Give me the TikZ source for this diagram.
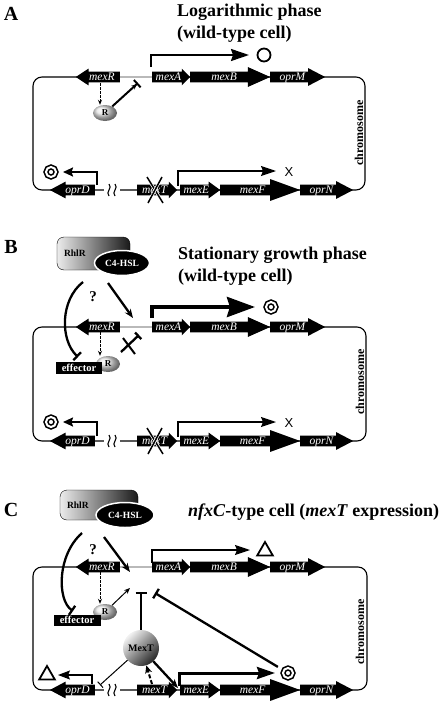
\documentclass[tikz,border=0pt]{standalone}
\usepackage{fontspec}
\setmainfont{Liberation Serif}
\setsansfont{Liberation Sans}
\usepackage{tikz}
\usetikzlibrary{positioning, arrows.meta, shapes}

\begin{document}
\begin{tikzpicture}[
        x=1pt, y=-1pt,
        gene_style/.style={single arrow, fill=black, text=white, anchor=tail,
            font=\fontsize{11.5}{11.5}\selectfont\itshape,
            inner xsep=1pt, inner ysep=1pt, text height=8pt, text depth=0.5pt,
            single arrow head extend=3pt, single arrow head indent=0pt},
        rev_gene/.style={gene_style, shape border rotate=180},
        chrom_style/.style={line width=1.1pt, rounded corners=9pt},
        spacer_style/.style={gray!55, line width=1.4pt},
        brk_style/.style={line width=1.1pt},
        cross_style/.style={line width=1.5pt, preaction={draw=white, line width=3pt}},
        label_style/.style={font=\fontsize{20}{20}\selectfont\bfseries, inner sep=0pt},
        title_style/.style={anchor=west, align=left, inner sep=0pt, font=\fontsize{18}{22}\selectfont\bfseries},
        chr_text/.style={rotate=90, inner sep=0pt, font=\fontsize{12}{12}\selectfont\bfseries},
        prot_R/.style={ellipse, ball color=gray!20, minimum width=24pt, minimum height=16pt, inner sep=0pt, font=\fontsize{9}{9}\selectfont\bfseries},
        effector_style/.style={fill=black, text=white, font=\fontsize{10.5}{10.5}\selectfont\bfseries, inner sep=0pt, minimum width=46pt, minimum height=12pt},
        rhlr_style/.style={draw=black, rounded corners=7pt, left color=gray!15, right color=black!90, font=\fontsize{9.5}{9.5}\selectfont\bfseries, align=left, inner xsep=7pt},
        hsl_style/.style={ellipse, fill=black, draw=white, line width=1.5pt, text=white, font=\fontsize{9.5}{9.5}\selectfont\bfseries, inner sep=0pt},
        mext_style/.style={circle, shade, top color=gray!10, bottom color=black!85, shading angle=45, minimum size=36pt, inner sep=0pt, font=\fontsize{10}{10}\selectfont\bfseries},
        open_circ/.style={circle, draw, line width=1.8pt, minimum size=13pt, inner sep=0pt},
        target_style/.style={circle, draw, line width=1.6pt, double=white, double distance=2pt, minimum size=10pt, inner sep=0pt},
        tri_style/.style={regular polygon, regular polygon sides=3, draw, line width=1.8pt, minimum size=18pt, inner sep=0pt},
        x_style/.style={font=\fontsize{13}{13}\selectfont\sffamily, inner sep=0pt},
        q_style/.style={font=\fontsize{15}{15}\selectfont\bfseries, inner sep=0pt},
        dash_arrow/.style={-{Stealth[length=5pt, width=4pt]}, line width=0.8pt, dash pattern=on 2.5pt off 1.5pt},
        dash_thick/.style={-{Stealth[length=8pt, width=7pt]}, line width=2pt, dash pattern=on 4pt off 2pt},
        thin_arrow/.style={-{Stealth[length=6pt, width=5pt]}, line width=1pt},
        act_arrow/.style={-{Stealth[length=9pt, width=7pt]}, line width=2.3pt},
        rep_arrow/.style={-{Stealth[length=5pt, width=5pt] Bar[width=10pt]}, line width=2pt},
        inh_thick/.style={-{Bar[width=11pt]}, line width=2.3pt},
        inh_thin/.style={-{Bar[width=8pt]}, line width=1pt},
        prom_thin/.style={-{Stealth[length=15pt, width=10pt, inset=2pt]}, line width=1.2pt},
        prom_small/.style={-{Stealth[length=10pt, width=9pt, inset=1.5pt]}, line width=2pt},
        prom_thick/.style={-{Stealth[length=18pt, width=12pt, inset=2pt]}, line width=2pt},
        prom_big/.style={-{Stealth[length=28pt, width=20pt, inset=3pt]}, line width=4pt},
    ]
        \useasboundingbox (0,0) rectangle (445,707);

        % ---------------- Panel A ----------------
        \node[label_style] (A-lab) at (11,14) {A};
        \node[title_style] (A-title) at (177,23) {Logarithmic phase\\(wild-type cell)};

        % Chromosome
        \coordinate (A-tl) at (33,77);
        \coordinate (A-br) at (365,190);
        \draw[chrom_style] (A-tl) rectangle (A-br);
        \fill[white] (104,186) rectangle (120,194);
        \draw[brk_style] (109,184) .. controls (113,188) and (105,192) .. (109,196);
        \draw[brk_style] (115,184) .. controls (119,188) and (111,192) .. (115,196);
        \node[chr_text] (A-chr) at (359,133) {chromosome};

        % Genes
        \node[rev_gene, minimum height=44pt, single arrow tip angle=67] (A-mexR) at (120,77) {mexR};
        \node[gene_style, minimum height=38pt] (A-mexA) at (152,77) {mexA};
        \node[gene_style, minimum height=80pt, single arrow tip angle=48, single arrow head extend=4.5pt] (A-mexB) at (190,77) {mexB};
        \node[gene_style, minimum height=55pt, single arrow tip angle=55, single arrow head extend=3.5pt] (A-oprM) at (270,77) {oprM};
        \draw[spacer_style] (A-mexR.tail) -- (A-mexA.tail);
        \node[rev_gene, minimum height=45pt, single arrow tip angle=56] (A-oprD) at (95,190) {oprD};
        \node[gene_style, minimum height=40pt] (A-mexT) at (137,190) {mexT};
        \node[gene_style, minimum height=40pt, single arrow tip angle=72] (A-mexE) at (180,190) {mexE};
        \node[gene_style, minimum height=80pt, single arrow tip angle=40, single arrow head extend=5.5pt] (A-mexF) at (220,190) {mexF};
        \node[gene_style, minimum height=53pt, single arrow tip angle=55, single arrow head extend=3.5pt] (A-oprN) at (300,190) {oprN};
        \draw[cross_style] (147,177) -- (163,203);
        \draw[cross_style] (162,177) -- (148,203);

        % Regulators
        \node[prot_R] (A-R) at (105,113) {R};
        \coordinate (A-d1) at (100,83);
        \draw[dash_arrow] (A-d1) -- (A-d1 |- A-R.north);
        \coordinate (A-i1) at (138,83);
        \draw[rep_arrow] (A-R) -- (A-i1);

        % Promoters
        \coordinate (A-p1) at (151,67);
        \coordinate (A-e1) at (249,55);
        \node[open_circ] (A-o1) at (264,55) {};
        \draw[prom_thick] (A-p1) |- (A-e1);
        \coordinate (A-p2) at (178,186);
        \coordinate (A-e2) at (276,171);
        \node[x_style] (A-x) at (289,172) {X};
        \draw[prom_thin] (A-p2) |- (A-e2);
        \coordinate (A-p3) at (97,185);
        \coordinate (A-e3) at (63,172);
        \node[target_style] (A-o2) at (51,172) {};
        \draw[prom_small] (A-p3) |- (A-e3);

        % ---------------- Panel B ----------------
        \node[label_style] (B-lab) at (11,247) {B};
        \node[title_style] (B-title) at (178,266) {Stationary growth phase\\(wild-type cell)};
        \node[rhlr_style, minimum width=73pt, minimum height=33pt, text width=59pt] (B-rhlr) at (93.5,253.5) {RhlR};
        \node[hsl_style, minimum width=55pt, minimum height=25pt] (B-hsl) at (122,263) {C4-HSL};

        % Chromosome
        \coordinate (B-tl) at (33,327);
        \coordinate (B-br) at (366,441);
        \draw[chrom_style] (B-tl) rectangle (B-br);
        \fill[white] (104,437) rectangle (120,445);
        \draw[brk_style] (109,435) .. controls (113,439) and (105,443) .. (109,447);
        \draw[brk_style] (115,435) .. controls (119,439) and (111,443) .. (115,447);
        \node[chr_text] (B-chr) at (360,382) {chromosome};

        % Genes
        \node[rev_gene, minimum height=44pt, single arrow tip angle=67] (B-mexR) at (120,327) {mexR};
        \node[gene_style, minimum height=38pt] (B-mexA) at (152,327) {mexA};
        \node[gene_style, minimum height=80pt, single arrow tip angle=48, single arrow head extend=4.5pt] (B-mexB) at (190,327) {mexB};
        \node[gene_style, minimum height=55pt, single arrow tip angle=55, single arrow head extend=3.5pt] (B-oprM) at (270,327) {oprM};
        \draw[spacer_style] (B-mexR.tail) -- (B-mexA.tail);
        \node[rev_gene, minimum height=45pt, single arrow tip angle=56] (B-oprD) at (95,441) {oprD};
        \node[gene_style, minimum height=40pt] (B-mexT) at (137,441) {mexT};
        \node[gene_style, minimum height=40pt, single arrow tip angle=72] (B-mexE) at (180,441) {mexE};
        \node[gene_style, minimum height=80pt, single arrow tip angle=40, single arrow head extend=5.5pt] (B-mexF) at (220,441) {mexF};
        \node[gene_style, minimum height=53pt, single arrow tip angle=55, single arrow head extend=3.5pt] (B-oprN) at (300,441) {oprN};
        \draw[cross_style] (147,428) -- (163,454);
        \draw[cross_style] (162,428) -- (148,454);

        % Regulators
        \coordinate (B-a1) at (83,282);
        \coordinate (B-a2) at (78,357);
        \draw[inh_thick] (B-a1) .. controls (60,300) and (60,340) .. (B-a2);
        \node[q_style] (B-q) at (93,297) {?};
        \coordinate (B-s1) at (108,283);
        \coordinate (B-s2) at (133,318);
        \draw[act_arrow] (B-s1) -- (B-s2);
        \node[prot_R] (B-R) at (108,364) {R};
        \node[effector_style] (B-eff) at (79,368) {effector};
        \coordinate (B-d1) at (100,332);
        \draw[dash_arrow] (B-d1) -- (B-d1 |- B-R.north);
        \coordinate (B-i0) at (121,352);
        \coordinate (B-i1) at (139,335);
        \draw[inh_thick, -{Bar[width=9pt]}] (B-i0) -- (B-i1);
        \draw[line width=2pt] (123,338) -- (135,354);

        % Promoters
        \coordinate (B-p1) at (152,318);
        \coordinate (B-e1) at (255,307);
        \node[target_style] (B-o1) at (271,307) {};
        \draw[prom_big] (B-p1) |- (B-e1);
        \coordinate (B-p2) at (178,437);
        \coordinate (B-e2) at (276,422);
        \node[x_style] (B-x) at (289,423) {X};
        \draw[prom_thin] (B-p2) |- (B-e2);
        \coordinate (B-p3) at (97,436);
        \coordinate (B-e3) at (63,422);
        \node[target_style] (B-o2) at (51,422) {};
        \draw[prom_small] (B-p3) |- (B-e3);

        % ---------------- Panel C ----------------
        \node[label_style] (C-lab) at (11,510) {C};
        \node[title_style] (C-title) at (188,512) {\textit{nfxC}-type cell (\textit{mexT} expression)};
        \node[rhlr_style, minimum width=78pt, minimum height=30pt, text width=64pt] (C-rhlr) at (99,505) {RhlR};
        \node[hsl_style, minimum width=58pt, minimum height=25pt] (C-hsl) at (125,515) {C4-HSL};

        % Chromosome
        \coordinate (C-tl) at (33,567);
        \coordinate (C-br) at (367,690);
        \draw[chrom_style] (C-tl) rectangle (C-br);
        \fill[white] (104,686) rectangle (120,694);
        \draw[brk_style] (109,684) .. controls (113,688) and (105,692) .. (109,696);
        \draw[brk_style] (115,684) .. controls (119,688) and (111,692) .. (115,696);
        \node[chr_text] (C-chr) at (360,632) {chromosome};

        % Genes
        \node[rev_gene, minimum height=44pt, single arrow tip angle=67] (C-mexR) at (120,567) {mexR};
        \node[gene_style, minimum height=38pt] (C-mexA) at (152,567) {mexA};
        \node[gene_style, minimum height=80pt, single arrow tip angle=48, single arrow head extend=4.5pt] (C-mexB) at (190,567) {mexB};
        \node[gene_style, minimum height=55pt, single arrow tip angle=55, single arrow head extend=3.5pt] (C-oprM) at (270,567) {oprM};
        \draw[spacer_style] (C-mexR.tail) -- (C-mexA.tail);
        \node[rev_gene, minimum height=45pt, single arrow tip angle=56] (C-oprD) at (95,690) {oprD};
        \node[gene_style, minimum height=40pt] (C-mexT) at (137,690) {mexT};
        \node[gene_style, minimum height=40pt, single arrow tip angle=72] (C-mexE) at (180,690) {mexE};
        \node[gene_style, minimum height=80pt, single arrow tip angle=40, single arrow head extend=5.5pt] (C-mexF) at (220,690) {mexF};
        \node[gene_style, minimum height=53pt, single arrow tip angle=55, single arrow head extend=3.5pt] (C-oprN) at (300,690) {oprN};

        % Regulators
        \coordinate (C-a1) at (82,533);
        \coordinate (C-a2) at (73,611);
        \draw[inh_thick] (C-a1) .. controls (57,555) and (57,600) .. (C-a2);
        \node[q_style] (C-q) at (93,550) {?};
        \coordinate (C-s1) at (104,537);
        \coordinate (C-s2) at (130,572);
        \draw[act_arrow] (C-s1) -- (C-s2);
        \node[prot_R] (C-R) at (105,612) {R};
        \node[effector_style, minimum width=47pt, minimum height=11pt] (C-eff) at (77,620) {effector};
        \coordinate (C-d1) at (100,572);
        \draw[dash_arrow] (C-d1) -- (C-d1 |- C-R.north);
        \coordinate (C-i1) at (130,588);
        \draw[thin_arrow] (C-R) -- (C-i1);
        \node[mext_style] (C-mext) at (141,648) {MexT};
        \coordinate (C-b1) at (141,592);
        \draw[inh_thick] (C-mext) -- (C-b1);
        \node[target_style] (C-o2) at (288,673) {};
        \coordinate (C-b2) at (155,593);
        \draw[inh_thick, shorten <=6pt] (C-o2) -- (C-b2);
        \coordinate (C-b3) at (100,685);
        \draw[inh_thin] (C-mext) -- (C-b3);
        \coordinate (C-d2) at (152,684);
        \draw[dash_thick] (C-d2) -- (C-mext);
        \coordinate (C-a3) at (178,688);
        \draw[act_arrow] (C-mext) -- (C-a3);

        % Promoters
        \coordinate (C-p1) at (152,563);
        \coordinate (C-e1) at (250,550);
        \node[tri_style] (C-t1) at (265,551) {};
        \draw[prom_thin] (C-p1) |- (C-e1);
        \coordinate (C-p2) at (179,686);
        \coordinate (C-e2) at (275,673);
        \draw[prom_thick, line width=3pt] (C-p2) |- (C-e2);
        \coordinate (C-p3) at (92,684);
        \coordinate (C-e3) at (58,675);
        \node[tri_style] (C-t2) at (47,675) {};
        \draw[prom_thin, -{Stealth[length=12pt, width=9pt, inset=2pt]}] (C-p3) |- (C-e3);
    \end{tikzpicture}
\end{document}
